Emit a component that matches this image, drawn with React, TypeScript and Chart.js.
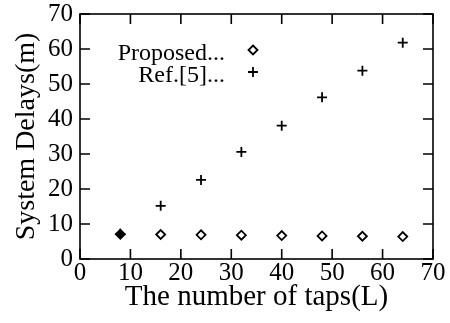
import React, { useEffect, useRef } from "react";
import { Chart, registerables } from "chart.js";

Chart.register(...registerables);

const taps = [8, 16, 24, 32, 40, 48, 56, 64];
const proposed = [7.1, 7.0, 6.9, 6.8, 6.7, 6.6, 6.5, 6.4];
const ref5 = [7.2, 15.2, 22.6, 30.6, 38.1, 46.2, 53.8, 61.8];
const xTicks = [0, 10, 20, 30, 40, 50, 60, 70];
const yTicks = [0, 10, 20, 30, 40, 50, 60, 70];
const legendLabels = ["Proposed...", "Ref.[5]..."];

const FONT = "'Liberation Serif', 'DejaVu Serif', serif";

export default function App() {
  const ref = useRef<HTMLCanvasElement>(null);
  useEffect(() => {
    document.body.style.margin = "0";
    const boxPlugin = {
      id: "boxTicks",
      afterDraw(chart: any) {
        const { ctx, chartArea: a, scales } = chart;
        const xs = scales.x, ys = scales.y;
        ctx.save();
        ctx.strokeStyle = "#000";
        ctx.lineWidth = 1.6;
        ctx.strokeRect(a.left, a.top, a.right - a.left, a.bottom - a.top);
        const L = 10;
        ctx.beginPath();
        xTicks.forEach((v) => {
          const p = xs.getPixelForValue(v);
          ctx.moveTo(p, a.bottom);
          ctx.lineTo(p, a.bottom - L);
          ctx.moveTo(p, a.top);
          ctx.lineTo(p, a.top + L);
        });
        yTicks.forEach((v) => {
          const p = ys.getPixelForValue(v);
          ctx.moveTo(a.left, p);
          ctx.lineTo(a.left + L, p);
          ctx.moveTo(a.right, p);
          ctx.lineTo(a.right - L, p);
        });
        ctx.stroke();
        // legend
        ctx.font = `24px ${FONT}`;
        ctx.fillStyle = "#000";
        ctx.textAlign = "right";
        ctx.textBaseline = "alphabetic";
        const tx = 225;
        const mx = 253;
        const y1 = 50, y2 = 72;
        ctx.fillText(legendLabels[0], tx, 60);
        ctx.fillText(legendLabels[1], tx, 82);
        ctx.lineWidth = 1.8;
        ctx.beginPath();
        ctx.moveTo(mx, y1 - 4.5);
        ctx.lineTo(mx + 4.5, y1);
        ctx.lineTo(mx, y1 + 4.5);
        ctx.lineTo(mx - 4.5, y1);
        ctx.closePath();
        ctx.stroke();
        ctx.beginPath();
        ctx.moveTo(mx - 5, y2);
        ctx.lineTo(mx + 5, y2);
        ctx.moveTo(mx, y2 - 5);
        ctx.lineTo(mx, y2 + 5);
        ctx.stroke();
        ctx.restore();
      },
    };
    const chart = new Chart(ref.current!, {
      type: "scatter",
      data: {
        datasets: [
          {
            label: legendLabels[0],
            data: taps.map((t, i) => ({ x: t, y: proposed[i] })),
            pointStyle: "rectRot",
            pointRadius: 4.5,
            borderColor: "#000",
            backgroundColor: taps.map((_, i) => (i === 0 ? "#000" : "rgba(0,0,0,0)")),
            borderWidth: 1.8,
          },
          {
            label: legendLabels[1],
            data: taps.map((t, i) => ({ x: t, y: ref5[i] })),
            pointStyle: "cross",
            pointRadius: 5,
            borderColor: "#000",
            backgroundColor: "#000",
            borderWidth: 1.8,
          },
        ],
      },
      options: {
        animation: false,
        responsive: false,
        layout: { padding: { left: 0, right: 17, top: 14, bottom: 0 } },
        plugins: { legend: { display: false }, tooltip: { enabled: false } },
        scales: {
          x: {
            type: "linear",
            min: 0,
            max: 70,
            afterBuildTicks: (s: any) => {
              s.ticks = xTicks.map((v) => ({ value: v }));
            },
            afterFit: (s: any) => {
              s.height = 64;
              s.paddingLeft = 0;
              s.paddingRight = 0;
            },
            grid: { display: false, drawTicks: false },
            border: { display: false },
            ticks: {
              color: "#000",
              padding: -1,
              font: { family: FONT, size: 25 },
            },
            title: {
              display: true,
              text: "The number of taps(L)",
              color: "#000",
              font: { family: FONT, size: 29 },
              padding: { top: 0, bottom: 8 },
            },
          },
          y: {
            type: "linear",
            min: 0,
            max: 70,
            afterBuildTicks: (s: any) => {
              s.ticks = yTicks.map((v) => ({ value: v }));
            },
            afterFit: (s: any) => {
              s.width = 80;
              s.paddingTop = 0;
              s.paddingBottom = 0;
            },
            grid: { display: false, drawTicks: false },
            border: { display: false },
            ticks: {
              color: "#000",
              padding: 7,
              font: { family: FONT, size: 25 },
            },
            title: {
              display: true,
              text: "System Delays(m)",
              color: "#000",
              font: { family: FONT, size: 28 },
              padding: { top: 10, bottom: 0 },
            },
          },
        },
      },
      plugins: [boxPlugin],
    } as any);
    return () => chart.destroy();
  }, []);
  return (
    <div style={{ position: "absolute", left: 0, top: 0, width: 450, height: 323, background: "#fff" }}>
      <canvas ref={ref} width={450} height={323} style={{ width: 450, height: 323 }} />
    </div>
  );
}
